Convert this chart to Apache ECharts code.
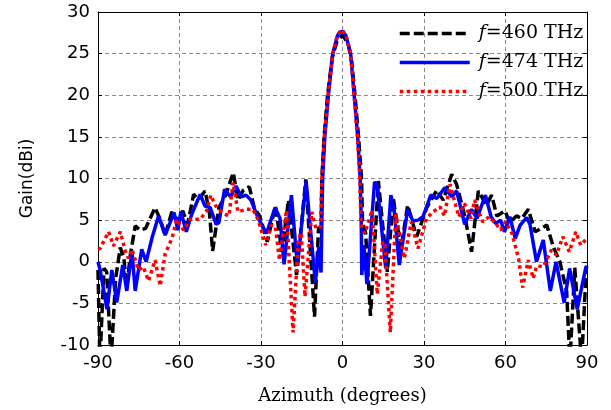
<!DOCTYPE html>
<html>
<head>
<meta charset="utf-8">
<script src="https://cdn.jsdelivr.net/npm/echarts@6/dist/echarts.min.js"></script>
<style>
html,body{margin:0;padding:0;background:#fff;}
#chart{width:611px;height:410px;}
</style>
</head>
<body>
<div id="chart"></div>
<script>
// ---- Data ----
const seriesNames = ['f=460 THz', 'f=474 THz', 'f=500 THz'];
const xTicks = [-90, -60, -30, 0, 30, 60, 90];
const yTicks = [-10, -5, 0, 5, 10, 15, 20, 25, 30];

const angle460 = [-90,-89.3,-87.8,-86.8,-85.2,-83.5,-81.8,-80.5,-79.4,-78,-76.3,-74.5,-72.5,-69,-67,-65.3,-62.8,-61,-58.8,-57,-54.8,-53,-50.6,-49,-47.8,-45.5,-43,-40.2,-38.5,-36.5,-34.3,-32.5,-30.5,-27.7,-24.7,-22.3,-19.9,-16.9,-13.5,-10.3,-8.8,-7.9,-7.6,-6.8,-5.5,-3.8,-2,0,2,3.4,4.6,5.9,7,7.4,8.5,10.3,13.2,16.5,18.7,21.5,24,27.3,31,34.7,37.1,40.2,42,45,47.5,50,53,54.9,56.8,59.8,61.6,64,66,68.4,70.9,75.2,77.6,80,82.5,83.7,85.5,88,89.8,90];
const gain460  = [-1,-12,-0.8,-1.2,-12,-2,1.7,0.5,-3,1,4.3,3.8,4,6.5,5,3.2,6,4.9,6.1,4.5,8.1,7.5,8.5,6,1.3,6.5,8,10.7,7.4,8.6,9,6.5,5.5,2.4,6.7,1.2,7.4,-1.6,9.9,-6.6,4.2,3.5,10,15,20,24.5,26.5,27.2,26.3,24,20,15,10,4.5,3.5,-6.5,9.7,-1.2,7.6,1.5,6.8,3,6.5,8.6,7.4,10.5,9.3,5.5,1.2,8.5,6.8,8,5.5,6.1,4.7,5.5,5.2,6.3,3.6,4.4,1.8,0,-3.5,-12,-0.7,-12,-0.5,-0.5];

const angle474 = [-90,-89.2,-86.7,-84.9,-83.1,-80.9,-79.4,-77.5,-76.3,-73.9,-72.3,-70,-67.7,-65.3,-62,-60.6,-59.5,-57.5,-55.5,-52.4,-50.6,-48.7,-46.5,-45.5,-43.4,-41.2,-39.2,-37.3,-35.5,-33.7,-31,-28,-24.8,-23,-21.5,-18.8,-16.6,-13.4,-10,-8.7,-7.9,-7.6,-7.3,-6.5,-5.2,-3.6,-1.8,-0.3,1.2,3,4.3,5.6,6.5,6.9,7.1,7.9,9,11.8,12.8,15.9,17.8,19,20.9,24,25.9,27.8,29.6,32.5,34.7,37.7,40.2,42,45,47.5,49.5,52.6,54.7,56.4,58.2,59.6,61.6,63.6,65.4,67.8,69,71.4,73.9,76.5,78.6,81.6,83.6,86.4,89.5,90];
const gain474  = [0,-1,-5.7,-1,-4.9,-0.4,-3.5,1.3,-3.5,1.5,0,3,5.5,3.2,5.9,3.8,6,3.6,5.7,8.1,6.7,6.5,4.5,4.7,8.7,7.8,9.1,7.8,8,7.4,5.2,3.4,6.5,5.2,-0.3,8,-0.5,9.7,-2.5,1.8,-1.3,5,10,15,20,25,27.2,27.7,27.2,25,20,15,10,5,-1.6,2,-2.7,9.6,9.1,-0.8,8,6.3,-0.4,6.3,4.9,5,5.4,8,7.6,8.9,7.8,8.5,4.5,6.3,5.2,8,5.4,4.6,5,3.6,5.4,2.8,4.4,5.3,4.5,0,2.6,-3.5,0,-4.9,-0.8,-5.7,-0.8,-0.5];

const angle500 = [-90,-89.2,-86.1,-84.3,-81.8,-80,-78.8,-77.5,-75.1,-73.3,-71.4,-69,-67.1,-65.3,-62.8,-61,-58.5,-56.1,-52.4,-50,-48.5,-46.3,-43.8,-41.8,-40.3,-38.5,-35.5,-33,-31,-28.3,-26.2,-24.7,-23.2,-20.6,-18.2,-16.3,-15.2,-13.8,-11.3,-9.8,-8.1,-7.6,-6.7,-5.3,-3.6,-1.8,-0.3,1.2,3,4.3,5.5,6.4,6.8,8.2,10.9,12.8,14.8,15.6,17.6,19.6,22.8,25.3,27.8,30.9,33.4,35.9,37.5,39.6,42.8,44.9,47.3,48.6,51.6,54,56.4,58.2,60,62.4,64.8,66.3,68.4,70.2,71.5,73.9,76.9,78.7,81.1,83.5,85.9,87.7,90];
const gain500  = [1.5,1.6,3.6,1.9,3.6,1.3,0.4,1.5,-1,-0.6,-2.3,0.2,-2.9,0.9,2.8,5.1,3.8,5.1,5.1,6.1,8,6.5,5.8,5.5,9.5,6,6.3,6.3,5,2,4.4,4.2,0.2,6.2,-8.5,2.5,3.5,-4.2,6,4,4.2,10,15,20,25,27.3,27.9,27.3,25,20,15,10,4.5,3.4,6.2,-3.9,2.4,2,-8.5,5.7,0.4,4.8,1.6,5.2,6,6.6,5.5,9.3,5.4,7,5.2,7.4,4.8,5.4,4.6,3.8,4.8,3.4,0.4,-3.1,0.2,-2,-0.5,-0.6,1.4,0.8,3,1.2,3.6,2,2.8];

// ---- Build ----
const pairs = (xs, ys) => xs.map((x, i) => [x, ys[i]]);
const chart = echarts.init(document.getElementById('chart'), null, {renderer: 'canvas'});

const gridLine = {show: true, lineStyle: {color: '#8a8a8a', width: 1, type: [4, 3]}};
const tickIn = {show: true, inside: true, length: 4, lineStyle: {color: '#000'}};
const axLine = {show: true, onZero: false, lineStyle: {color: '#000', width: 1}};

const legendFmt = name => '{i|f}{n|' + name.slice(1) + '}';

chart.setOption({
  animation: false,
  backgroundColor: '#fff',
  grid: {left: 98, right: 24, top: 12, bottom: 64, containLabel: false},
  legend: {
    orient: 'vertical',
    left: 393,
    top: 19,
    itemWidth: 70,
    itemHeight: 14,
    itemGap: 10,
    align: 'left',
    data: seriesNames,
    formatter: legendFmt,
    itemStyle: {opacity: 0},
    lineStyle: {width: 3.5},
    textStyle: {
      color: '#000',
      padding: [0, 0, 0, 4],
      rich: {
        i: {fontFamily: 'DejaVu Serif', fontStyle: 'italic', fontSize: 19, color: '#000'},
        n: {fontFamily: 'DejaVu Serif', fontSize: 19, color: '#000'}
      }
    }
  },
  xAxis: [{
    type: 'value', min: xTicks[0], max: xTicks[xTicks.length - 1], interval: 30,
    position: 'bottom',
    axisLine: axLine, axisTick: tickIn, splitLine: gridLine,
    axisLabel: {color: '#000', fontFamily: 'DejaVu Sans', fontSize: 18, margin: 9},
    name: 'Azimuth (degrees)', nameLocation: 'middle', nameGap: 42,
    nameTextStyle: {color: '#000', fontFamily: 'DejaVu Serif', fontSize: 18}
  }, {
    type: 'value', min: xTicks[0], max: xTicks[xTicks.length - 1], interval: 30,
    position: 'top',
    axisLine: axLine, axisTick: tickIn, splitLine: {show: false}, axisLabel: {show: false}
  }],
  yAxis: [{
    type: 'value', min: yTicks[0], max: yTicks[yTicks.length - 1], interval: 5,
    position: 'left',
    axisLine: axLine, axisTick: tickIn, splitLine: gridLine,
    axisLabel: {color: '#000', fontFamily: 'DejaVu Sans', fontSize: 18, margin: 8},
    name: 'Gain(dBi)', nameLocation: 'middle', nameGap: 62, nameRotate: 90,
    nameTextStyle: {color: '#000', fontFamily: 'DejaVu Sans', fontSize: 17}
  }, {
    type: 'value', min: yTicks[0], max: yTicks[yTicks.length - 1], interval: 5,
    position: 'right',
    axisLine: axLine, axisTick: tickIn, splitLine: {show: false}, axisLabel: {show: false}
  }],
  series: [{
    name: seriesNames[0], type: 'line', symbol: 'none', clip: true,
    data: pairs(angle460, gain460),
    lineStyle: {color: '#000', width: 3.5, type: [10, 4]},
    itemStyle: {color: '#000'}
  }, {
    name: seriesNames[1], type: 'line', symbol: 'none', clip: true,
    data: pairs(angle474, gain474),
    lineStyle: {color: '#0000ff', width: 3.5, type: 'solid'},
    itemStyle: {color: '#0000ff'}
  }, {
    name: seriesNames[2], type: 'line', symbol: 'none', clip: true,
    data: pairs(angle500, gain500),
    lineStyle: {color: '#ff0000', width: 3.5, type: [3.5, 3.5]},
    itemStyle: {color: '#ff0000'}
  }]
});
</script>
</body>
</html>
